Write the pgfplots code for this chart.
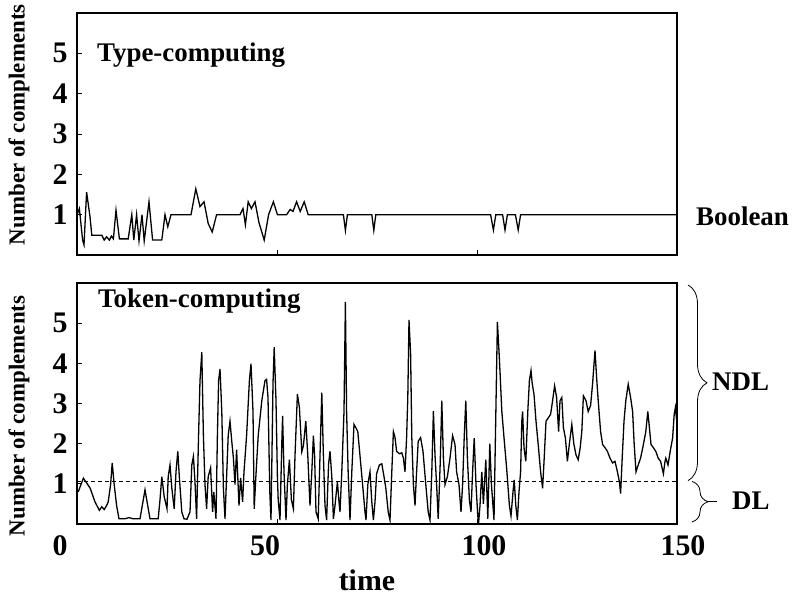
\documentclass[border=0pt]{standalone}
\usepackage{fontspec}
\setmainfont{Liberation Serif}
\usepackage{pgfplots}
\pgfplotsset{compat=1.18}
\usetikzlibrary{decorations.pathreplacing}
\newcommand{\lbl}{\fontsize{27}{30}\selectfont\bfseries}
\newcommand{\tlbl}{\fontsize{30}{32}\selectfont\bfseries}
\newcommand{\ylbl}{\fontsize{23}{26}\selectfont\bfseries}
\pgfplotsset{panel/.style={width=600bp, scale only axis, xmin=0, xmax=150, ymin=0, ymax=6,
  clip=false, axis line style={line width=1.2bp}, tick style={line width=0.9bp, black},
  major tick length=5bp, tick align=inside, xtick={50,100}, xticklabels={},
  ytick={1,2,3,4,5}, yticklabel style={font=\tlbl, xshift=-6bp},
  /pgf/number format/assume math mode=true, xtick pos=bottom, ytick pos=left}}
\begin{document}
\begin{tikzpicture}
\useasboundingbox (-77bp,-343bp) rectangle (717bp,255bp);
% top panel
\begin{axis}[panel, height=242bp, at={(0,0)}, anchor=south west]
\addplot[black, line width=1.3bp] coordinates {
(0,1.0) (0.6,1.15) (1.4,0.37) (1.75,0.25) (2.4,1.56) (2.9,1.2) (3.25,0.95) (3.7,0.49) (6.2,0.49)
(6.8,0.37) (7.4,0.45) (8.1,0.37) (8.6,0.47) (9.1,0.40) (9.75,1.11) (10.6,0.40) (12.8,0.40)
(13.7,1.0) (14.2,0.37) (14.9,1.0) (15.5,0.35) (16.25,1.0) (16.8,0.35) (18,1.32) (18.9,0.37) (21.2,0.37)
(22,1.0) (22.7,0.7) (23.5,1.0) (28.5,1.0) (29.7,1.64) (30.75,1.2) (31.75,1.32) (32.8,0.78)
(33.8,0.57) (34.9,1.0) (40.75,1.0) (41.5,1.15) (42.1,0.75) (42.8,1.32) (43.6,1.15) (44.5,1.32)
(45.5,0.8) (46.8,0.37) (47.9,1.0) (49.1,1.32) (50.1,1.0) (52.4,1.0) (53.3,1.13) (54,1.08)
(54.9,1.32) (55.8,1.08) (56.8,1.32) (57.8,1.0) (66.6,1.0) (67.1,0.61) (67.6,1.0) (73.7,1.0)
(74.2,0.61) (74.7,1.0) (103.4,1.0) (104.1,0.62) (104.7,1.0) (106.4,1.0) (107,0.62) (107.6,1.0)
(109.6,1.0) (110.3,0.62) (110.9,1.0) (150,1.0)
};
\node[font=\lbl, anchor=base west, inner sep=0] at (axis cs:5,4.79) {Type-computing};
\node[font=\lbl, anchor=base west, inner sep=0] at (axis cs:154.75,0.74) {Boolean};
\node[font=\ylbl, rotate=90, anchor=center] at (axis cs:-14.5,3.23) {Number of complements};
\end{axis}
% bottom panel
\begin{axis}[panel, height=241bp, at={(0,-269bp)}, anchor=south west]
\addplot[black, line width=0.7bp, dash pattern=on 4bp off 3bp] coordinates {(0,1.05) (150,1.05)};
\addplot[black, line width=1.3bp] coordinates {
(0.3,0.8) (1.6,1.14) (3.3,0.89) (4.5,0.55) (5.6,0.34) (6.2,0.43) (6.8,0.36) (7.4,0.46) (7.8,0.55)
(8.4,0.98) (8.8,1.52) (9.3,0.98) (9.9,0.46) (10.5,0.13) (12,0.13) (13,0.16) (14,0.13) (15.75,0.13)
(17,0.85) (18.25,0.13) (20.3,0.13) (20.75,0.6) (21.2,1.18) (21.8,0.68) (22.5,0.38) (22.8,1.18)
(23.25,1.47) (23.7,0.9) (24.3,0.38) (24.75,1.30) (25.2,1.81) (25.6,1.15) (26.2,0.3) (26.75,0.13)
(27.5,0.12) (28.25,0.30) (28.7,1.47) (29.1,1.68) (29.5,1.05) (29.9,0.13) (30.4,2.23) (30.75,3.57)
(31.2,4.28) (31.6,2.2) (32,0.98) (32.4,0.38) (32.8,1.18) (33.4,1.4) (33.9,0.3) (34.2,0.8) (34.75,0.13)
(35.1,2.2) (35.4,3.57) (35.75,3.86) (36.2,2.8) (36.6,0.89) (37,0.13) (37.4,1.18) (37.8,2.2)
(38.25,2.56) (38.7,2.05) (39.1,1.64) (39.5,0.98) (39.9,1.85) (40.5,0.46) (40.9,1.15) (41.4,0.55)
(41.75,1.30) (42.4,2.2) (43.1,3.57) (43.5,3.99) (44,2.8) (44.3,0.38) (44.7,1.15) (45.3,2.2)
(46.2,3.07) (47,3.57) (47.4,3.6) (47.75,3.15) (48.2,0.8) (48.5,0.1) (49.0,3.5) (49.3,4.40)
(49.75,3.07) (50.1,1.18) (50.3,0.6) (50.75,0.1) (51.25,2.2) (51.4,2.69) (51.75,1.30) (52.25,0.1)
(52.6,0.98) (53.1,1.6) (53.6,0.6) (54.1,0.38) (54.5,1.7) (55.1,3.23) (55.6,2.9) (56.2,1.8)
(56.6,1.95) (57.2,2.56) (57.7,1.7) (58.25,0.46) (58.7,1.3) (59.1,2.2) (59.4,1.7) (59.75,0.3)
(60.3,0.13) (60.75,1.7) (61.2,3.27) (61.6,1.7) (62,0.46) (62.4,0.1) (62.9,1.5) (63.25,1.81)
(63.7,1.18) (64.1,0.13) (64.5,0.46) (65.1,1.05) (65.5,0.55) (65.75,0.3) (66.2,1.3) (66.75,2.8)
(67.1,5.53) (67.4,2.8) (67.8,1.25) (68.25,0.1) (68.7,1.3) (69.25,2.48) (69.7,2.4) (70.2,2.3)
(70.75,1.7) (71.4,0.98) (72,0.3) (72.25,0.1) (72.7,0.98) (73.25,1.30) (73.7,0.55) (74.1,0.1)
(74.5,0.55) (74.9,1.25) (75.6,1.47) (76.2,1.5) (76.75,1.18) (77.2,0.9) (77.8,0.3) (78.25,0.1)
(78.7,1.30) (79.1,2.3) (79.5,2.16) (79.9,1.81) (80.6,1.75) (81.2,1.77) (81.6,1.64) (82,1.30)
(82.4,2.15) (82.7,3.15) (83,5.08) (83.4,4.24) (83.7,2.16) (84.1,0.98) (84.5,0.46) (84.9,1.3)
(85.3,2.06) (85.9,2.15) (86.5,1.81) (87.2,0.98) (87.8,0.3) (88.25,0.1) (88.7,1.3) (89.1,2.81)
(89.5,1.72) (89.9,0.98) (90.3,0.13) (90.8,1.5) (91.2,3.07) (91.6,1.64) (92,0.98) (92.6,1.18)
(93.25,1.64) (93.9,2.2) (94.5,1.98) (94.9,1.30) (95.5,0.98) (96,0.3) (96.4,0.98) (96.8,2.15)
(97.2,3.07) (97.6,1.64) (98.1,0.6) (98.5,0.3) (98.9,1.3) (99.3,2.14) (99.75,0.98) (100.2,0.2)
(100.4,0.02) (100.75,0.46) (101.2,1.3) (101.6,0.5) (102.2,1.6) (102.7,0.13) (103.2,2.0) (103.6,1.0)
(104.25,0.1) (104.75,3.0) (105.1,5.03) (105.5,4.3) (105.75,3.8) (106.2,2.81) (106.75,2.15)
(107.4,1.40) (108.1,0.46) (108.5,0.2) (109,0.8) (109.3,1.1) (109.7,0.46) (110.1,0.1) (110.5,0.8)
(110.9,1.3) (111.2,2.56) (111.4,2.8) (111.75,1.9) (112.2,1.56) (112.7,2.8) (113.1,3.57) (113.5,3.82)
(113.8,3.5) (114.25,3.23) (114.75,2.56) (115.3,1.98) (115.9,1.3) (116.4,0.89) (116.8,1.64)
(117.25,2.56) (117.8,2.64) (118.4,2.73) (118.9,3.07) (119.4,3.44) (119.9,3.15) (120.4,2.3)
(120.75,3.07) (121.2,3.15) (121.6,2.4) (122.1,2.14) (122.6,1.56) (123.1,2.0) (123.7,2.48)
(124.2,2.0) (124.75,1.72) (125.3,1.6) (125.8,1.9) (126.2,2.3) (126.6,3.19) (127.25,3.07)
(127.8,2.8) (128.4,2.95) (128.9,3.5) (129.5,4.32) (129.9,3.65) (130.3,3.07) (130.9,2.3)
(131.4,1.98) (132,1.9) (132.6,1.81) (133.25,1.64) (133.9,1.52) (134.5,1.56) (135.1,1.30)
(135.6,1.05) (135.9,0.76) (136.3,1.64) (136.75,2.56) (137.2,3.07) (137.8,3.48) (138.4,3.15)
(138.9,2.8) (139.3,1.98) (139.75,1.30) (140.3,1.47) (140.9,1.64) (141.6,1.98) (142.2,2.3)
(142.7,2.8) (143.1,2.4) (143.5,1.98) (144.1,1.9) (144.7,1.81) (145.3,1.64) (145.9,1.56)
(146.6,1.25) (147.0,1.56) (147.2,1.64) (147.75,1.47) (148.3,1.81) (148.9,2.14) (149.3,2.73)
(149.6,2.9) (149.9,2.6)
};
\node[font=\lbl, anchor=base west, inner sep=0] at (axis cs:5.25,5.38) {Token-computing};
\node[font=\ylbl, rotate=90, anchor=center] at (axis cs:-14.5,2.69) {Number of complements};
% x tick labels
\node[font=\tlbl, anchor=north, inner sep=0] at (axis cs:-4.25,-0.28) {0};
\node[font=\tlbl, anchor=north, inner sep=0] at (axis cs:47,-0.28) {50};
\node[font=\tlbl, anchor=north, inner sep=0] at (axis cs:101.75,-0.28) {100};
\node[font=\tlbl, anchor=north, inner sep=0] at (axis cs:151.5,-0.28) {150};
\node[font=\tlbl, anchor=base, inner sep=0] at (axis cs:72.5,-1.66) {time};
% braces
\draw[decorate, decoration={brace, amplitude=19bp}, line width=0.8bp] (axis cs:152.75,5.95) -- (axis cs:152.75,1.08);
\draw[decorate, decoration={brace, amplitude=16bp}, line width=0.8bp] (axis cs:153.75,1.06) -- (axis cs:153.75,0.05);
\draw[line width=0.8bp] (axis cs:157.75,0.555) -- (axis cs:160,0.555);
\node[font=\lbl, anchor=base west, inner sep=0] at (axis cs:158.75,3.32) {NDL};
\node[font=\lbl, anchor=base west, inner sep=0] at (axis cs:163.75,0.35) {DL};
\end{axis}
\end{tikzpicture}
\end{document}
